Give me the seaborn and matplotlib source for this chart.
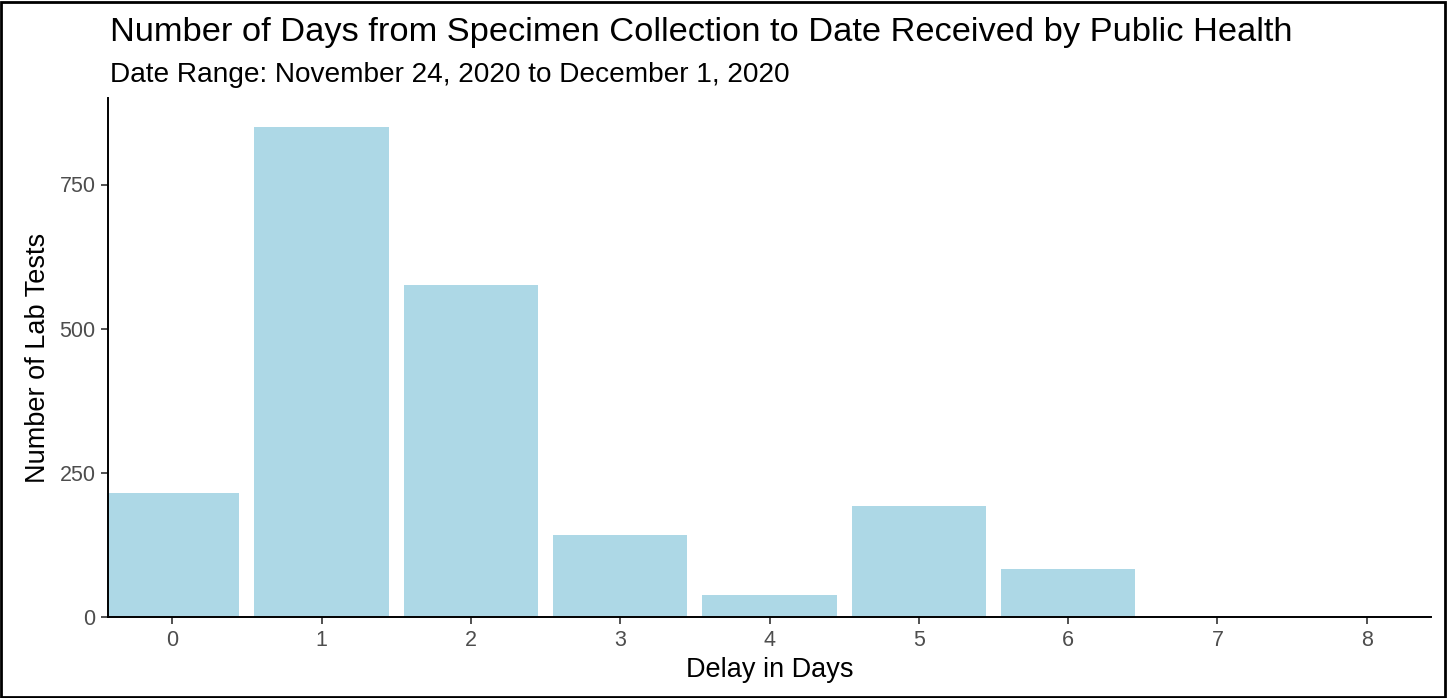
import matplotlib
matplotlib.use("Agg")
import matplotlib.pyplot as plt
import seaborn as sns
import pandas as pd
from matplotlib.patches import Rectangle

delay_days = [0, 1, 2, 3, 4, 5, 6, 7, 8]
lab_tests = [215, 850, 575, 143, 39, 193, 83, 1, 1]
x_ticks = [0, 1, 2, 3, 4, 5, 6, 7, 8]
y_ticks = [0, 250, 500, 750]

title = "Number of Days from Specimen Collection to Date Received by Public Health"
subtitle = "Date Range: November 24, 2020 to December 1, 2020"

sns.set_theme(style="ticks")
plt.rcParams["font.family"] = ["Liberation Sans", "DejaVu Sans"]

df = pd.DataFrame({"delay": delay_days, "tests": lab_tests})

fig = plt.figure(figsize=(14.48, 6.98), dpi=100)
ax = fig.add_axes([108 / 1448, 1 - 617 / 698, (1431 - 108) / 1448, (617 - 98) / 698])

sns.barplot(data=df, x="delay", y="tests", color="#ADD8E6", saturation=1,
            width=0.9, native_scale=True, ax=ax, edgecolor="none", linewidth=0)

ax.set_xlim(-0.43, 8.43)
ax.set_ylim(0, 900)
ax.set_xticks(x_ticks)
ax.set_xticklabels([str(v) for v in x_ticks])
ax.set_yticks(y_ticks)
ax.set_yticklabels([str(v) for v in y_ticks])

for s in ["top", "right"]:
    ax.spines[s].set_visible(False)
for s in ["left", "bottom"]:
    ax.spines[s].set_color("black")
    ax.spines[s].set_linewidth(1.4)

ax.tick_params(axis="both", colors="#333333", labelcolor="#4D4D4D",
               labelsize=15.5, length=5, width=1.2, pad=4)

ax.set_xlabel("Delay in Days", fontsize=19.5, color="black", labelpad=5)
ax.set_ylabel("Number of Lab Tests", fontsize=19.5, color="black", labelpad=6)

fig.text(110 / 1448, 1 - 41 / 698, title, fontsize=24.75, color="black",
         ha="left", va="baseline")
fig.text(110 / 1448, 1 - 82 / 698, subtitle, fontsize=20.2, color="black",
         ha="left", va="baseline")

fig.patches.append(Rectangle((0.001, 0.002), 0.997, 0.995, transform=fig.transFigure,
                             fill=False, edgecolor="black", linewidth=2))

fig.savefig("out.png", dpi=100)
